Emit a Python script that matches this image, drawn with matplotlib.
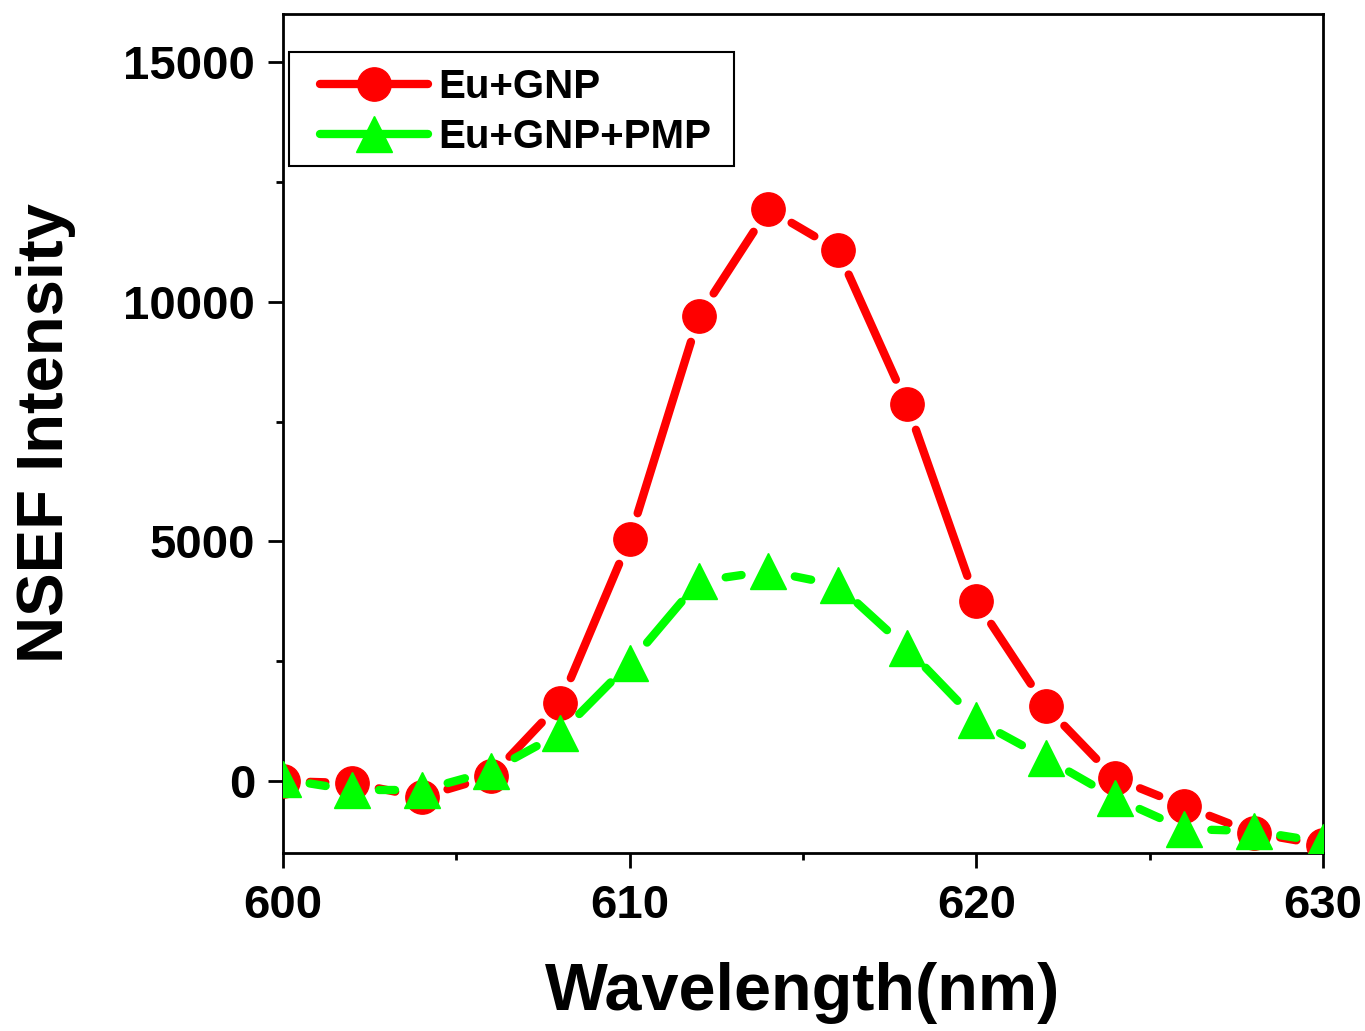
import matplotlib
matplotlib.use("Agg")
import matplotlib.pyplot as plt
import numpy as np
from matplotlib.lines import Line2D
from matplotlib.patches import Rectangle
from matplotlib.ticker import MultipleLocator

plt.rcParams["font.family"] = ["Liberation Sans", "DejaVu Sans"]
plt.rcParams["font.weight"] = "bold"

# --- data ------------------------------------------------------------------
wavelength = [600, 602, 604, 606, 608, 610, 612, 614, 616, 618, 620, 622, 624, 626, 628, 630]
eu_gnp = [0, -40, -330, 100, 1630, 5050, 9700, 11930, 11080, 7860, 3750, 1560, 60, -520, -1080, -1330]
eu_gnp_pmp = [40, -190, -190, 210, 1000, 2460, 4170, 4380, 4090, 2770, 1270, 480, -350, -1000, -1040, -1270]

RED = "#ff0000"
GREEN = "#00ff00"
LW = 6
GAP_PX = 27  # Origin-style gap between the line and each marker


def gapped_line(ax, xs, ys, color, zorder):
    """Draw the connecting line as separate segments, trimmed near each point."""
    pts = ax.transData.transform(np.column_stack([xs, ys]))
    inv = ax.transData.inverted()
    for p0, p1 in zip(pts[:-1], pts[1:]):
        d = p1 - p0
        length = np.hypot(*d)
        if length <= 2 * GAP_PX:
            continue
        u = d / length
        a = inv.transform(p0 + u * GAP_PX)
        b = inv.transform(p1 - u * GAP_PX)
        ax.plot([a[0], b[0]], [a[1], b[1]], color=color, linewidth=LW,
                solid_capstyle="round", zorder=zorder)


fig = plt.figure(figsize=(13.65, 10.31), dpi=100)
ax = fig.add_axes([0.2073, 0.1726, 0.7619, 0.8138])

ax.set_xlim(600, 630)
ax.set_ylim(-1500, 16000)

gapped_line(ax, wavelength, eu_gnp, RED, 3)
ax.plot(wavelength, eu_gnp, linestyle="none", marker="o", markersize=24,
        color=RED, zorder=3.5)
gapped_line(ax, wavelength, eu_gnp_pmp, GREEN, 4)
ax.plot(wavelength, eu_gnp_pmp, linestyle="none", marker="^", markersize=26,
        color=GREEN, zorder=4.5)

ax.xaxis.set_major_locator(MultipleLocator(10))
ax.xaxis.set_minor_locator(MultipleLocator(5))
ax.yaxis.set_major_locator(MultipleLocator(5000))
ax.yaxis.set_minor_locator(MultipleLocator(2500))
ax.tick_params(which="both", direction="out", width=2, top=False, right=False,
               labelsize=34)
ax.tick_params(which="major", length=11)
ax.tick_params(axis="x", which="major", pad=11)
ax.tick_params(axis="y", which="major", pad=9)
ax.tick_params(which="minor", length=5)
for s in ax.spines.values():
    s.set_linewidth(2)

ax.set_xlabel("Wavelength(nm)", fontsize=48, fontweight="bold", labelpad=25)
ax.set_ylabel("NSEF Intensity", fontsize=47, fontweight="bold", labelpad=34)

# legend frame drawn separately so the inner padding matches the original
ax.add_patch(Rectangle((0.0058, 0.8188), 0.428, 0.1359, transform=ax.transAxes,
                       facecolor="white", edgecolor="black", linewidth=1.5,
                       zorder=5, clip_on=False))
handles = [
    Line2D([], [], color=RED, linewidth=LW, marker="o", markersize=24,
           solid_capstyle="round"),
    Line2D([], [], color=GREEN, linewidth=LW, marker="^", markersize=26,
           solid_capstyle="round"),
]
leg = ax.legend(handles, ["Eu+GNP", "Eu+GNP+PMP"], loc="upper left",
                bbox_to_anchor=(0.0356, 0.9356), fontsize=29, frameon=False,
                handlelength=2.68, borderpad=0, borderaxespad=0,
                labelspacing=0.3, handletextpad=0.25)
leg.set_zorder(6)

fig.savefig("out.png", dpi=100)
